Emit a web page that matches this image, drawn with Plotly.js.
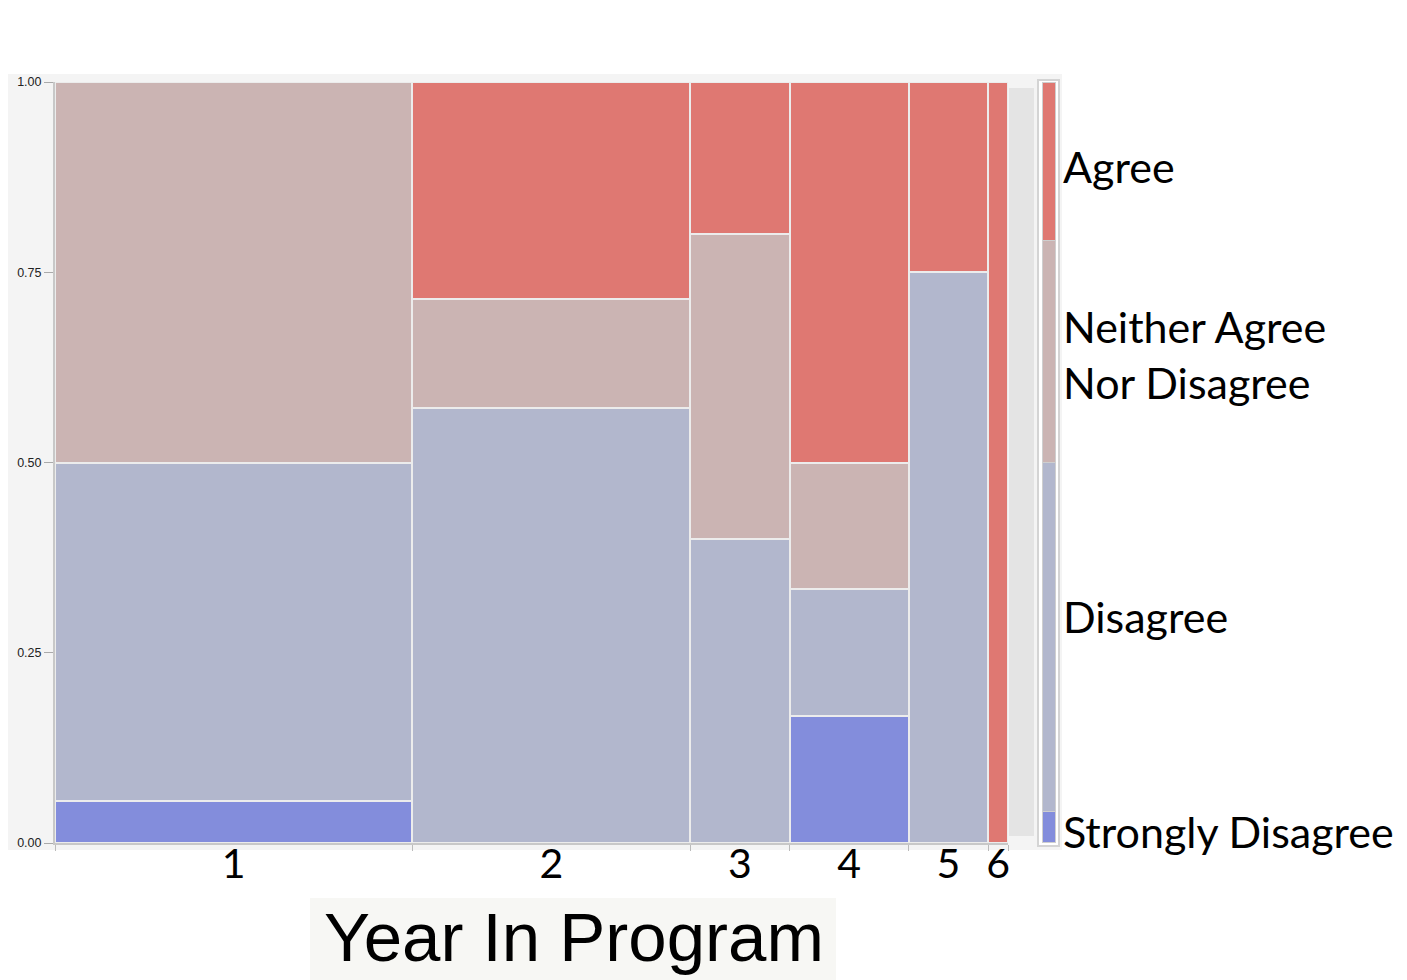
<!DOCTYPE html>
<html>
<head>
<meta charset="utf-8">
<script src="https://cdn.plot.ly/plotly-3.0.1.min.js"></script>
<style>html,body{margin:0;padding:0;background:#fff;}#chart{width:1407px;height:980px;}</style>
</head>
<body>
<div id="chart"></div>
<script>
// Counts per response category for each year in program
var years = ['1', '2', '3', '4', '5', '6'];
var stronglyDisagree = [1, 0, 0, 1, 0, 0];
var disagree = [8, 8, 2, 1, 3, 0];
var neither = [9, 2, 2, 1, 0, 0];
var agree = [0, 4, 1, 3, 1, 1];
var categoryNames = ['Strongly Disagree', 'Disagree', 'Neither Agree Nor Disagree', 'Agree'];
var categoryColors = ['#838ddc', '#b2b7cd', '#cbb4b3', '#df7872'];
var yTickVals = [0, 0.25, 0.5, 0.75, 1];

var W = 1407, H = 980;
var series = [stronglyDisagree, disagree, neither, agree];
var totals = years.map(function (_, i) {
  return series.reduce(function (s, arr) { return s + arr[i]; }, 0);
});
var grand = totals.reduce(function (a, b) { return a + b; }, 0);
var centers = [], bounds = [0], acc = 0;
totals.forEach(function (t) { centers.push(acc + t / 2); acc += t; bounds.push(acc); });

function px(x) { return x / W; }
function py(y) { return 1 - y / H; }

var traces = [];
series.forEach(function (arr, k) {
  traces.push({
    type: 'bar', name: categoryNames[k],
    x: centers, width: totals,
    y: arr.map(function (v, i) { return v === 0 ? null : v / totals[i]; }),
    marker: { color: categoryColors[k], line: { color: '#ececec', width: 2 } },
    xaxis: 'x', yaxis: 'y', showlegend: false, hoverinfo: 'skip'
  });
  var tot = arr.reduce(function (a, b) { return a + b; }, 0);
  traces.push({
    type: 'bar', name: categoryNames[k],
    x: [0.5], width: [1], y: [tot / grand],
    marker: { color: categoryColors[k], line: { color: '#cfcfcf', width: 1.5 } },
    xaxis: 'x2', yaxis: 'y', showlegend: false, hoverinfo: 'skip'
  });
});

var labelFont = { family: 'Lato, "Open Sans", sans-serif', size: 43, color: '#000' };
var tickFont = { family: 'Lato, "Open Sans", sans-serif', size: 41, color: '#000' };

var layout = {
  width: W, height: H,
  margin: { l: 0, r: 0, t: 0, b: 0 },
  paper_bgcolor: '#ffffff',
  plot_bgcolor: 'rgba(0,0,0,0)',
  barmode: 'stack',
  xaxis: {
    domain: [px(55), px(1008)], range: [0, grand],
    tickmode: 'array', tickvals: centers, ticktext: years,
    ticks: '', showgrid: false, zeroline: false,
    showline: true, linecolor: '#c8c8c8', linewidth: 2,
    tickfont: tickFont, ticklabelstandoff: -16,
    minor: { tickmode: 'array', tickvals: bounds, ticks: 'outside', ticklen: 6, tickcolor: '#bbbbbb', showgrid: false },
    fixedrange: true
  },
  xaxis2: {
    domain: [px(1042), px(1056)], range: [0, 1], anchor: 'y',
    showticklabels: false, ticks: '', showgrid: false, zeroline: false, showline: false,
    fixedrange: true
  },
  yaxis: {
    domain: [py(843), py(82)], range: [0, 1],
    tickmode: 'array', tickvals: yTickVals, tickformat: '.2f',
    ticks: 'outside', ticklen: 9, tickcolor: '#aaaaaa', tickwidth: 1,
    tickfont: { family: '"Liberation Sans", Arial, sans-serif', size: 12.5, color: '#222' },
    showgrid: false, zeroline: false,
    showline: true, linecolor: '#c8c8c8', linewidth: 2,
    fixedrange: true
  },
  shapes: [
    { type: 'rect', xref: 'paper', yref: 'paper', layer: 'below',
      x0: px(8), x1: px(1062), y0: py(850), y1: py(74),
      fillcolor: '#f4f4f4', line: { width: 0 } },
    { type: 'rect', xref: 'paper', yref: 'paper', layer: 'below',
      x0: px(1009), x1: px(1034), y0: py(836), y1: py(88),
      fillcolor: '#e4e4e4', line: { width: 0 } },
    { type: 'rect', xref: 'paper', yref: 'paper', layer: 'below',
      x0: px(1038), x1: px(1059), y0: py(846), y1: py(80),
      fillcolor: '#ffffff', line: { color: '#d4d4d4', width: 2 } },
    { type: 'rect', xref: 'paper', yref: 'paper', layer: 'below',
      x0: px(310), x1: px(836), y0: py(980), y1: py(898),
      fillcolor: '#f7f7f4', line: { width: 0 } }
  ],
  annotations: [
    { xref: 'paper', yref: 'paper', x: px(1061), y: py(167), xanchor: 'left', yanchor: 'middle',
      text: 'Agree', showarrow: false, font: labelFont },
    { xref: 'paper', yref: 'paper', x: px(1061), y: py(354), xanchor: 'left', yanchor: 'middle',
      text: 'Neither Agree<br>Nor Disagree', align: 'left', showarrow: false, font: labelFont },
    { xref: 'paper', yref: 'paper', x: px(1061), y: py(616), xanchor: 'left', yanchor: 'middle',
      text: 'Disagree', showarrow: false, font: labelFont },
    { xref: 'paper', yref: 'paper', x: px(1061), y: py(831), xanchor: 'left', yanchor: 'middle',
      text: 'Strongly Disagree', showarrow: false, font: labelFont },
    { xref: 'paper', yref: 'paper', x: px(574), y: py(937), xanchor: 'center', yanchor: 'middle',
      text: 'Year In Program', showarrow: false,
      font: { family: '"Liberation Sans", Arial, Helvetica, sans-serif', size: 69, color: '#000' } }
  ]
};

Plotly.newPlot('chart', traces, layout, { displayModeBar: false, staticPlot: true });
</script>
</body>
</html>
